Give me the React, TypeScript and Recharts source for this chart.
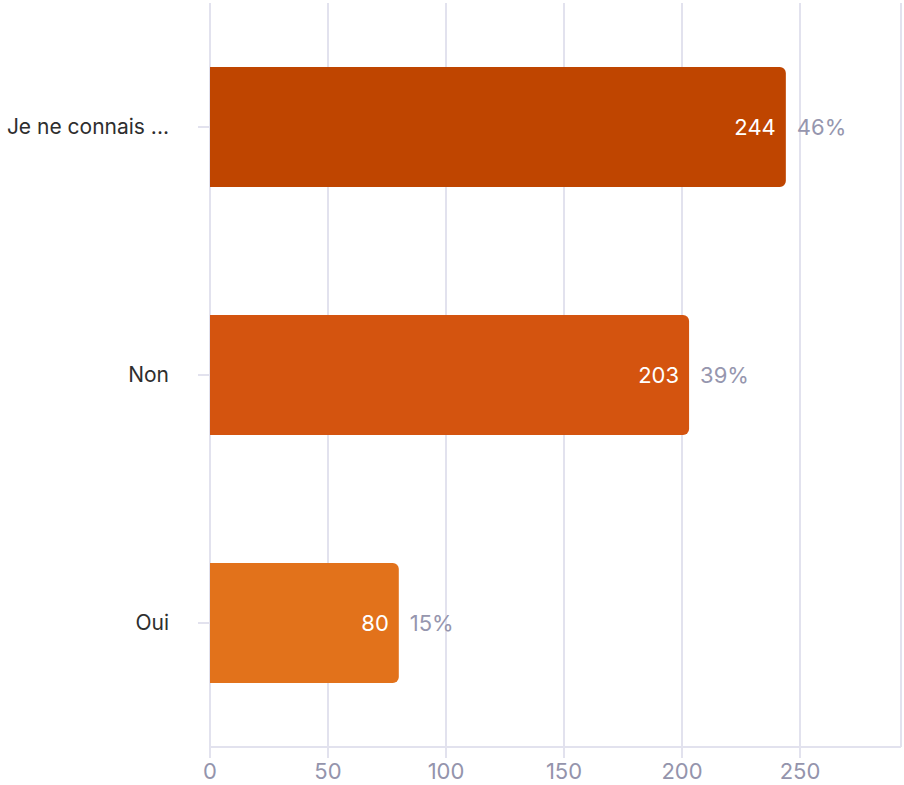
import React from "react";
import { BarChart, Bar, XAxis, YAxis, CartesianGrid, Cell, LabelList, ReferenceLine } from "recharts";

const categories = ["Je ne connais ...", "Non", "Oui"];
const counts = [244, 203, 80];
const percents = ["46%", "39%", "15%"];
const colors = ["#BF4500", "#D4540F", "#E2721B"];
const xTicks = [0, 50, 100, 150, 200, 250];
const xMax = 292.8;

const data = categories.map((c, i) => ({ name: c, value: counts[i], pct: percents[i] }));

const FONT = "Inter, 'Noto Sans', sans-serif";
const FS = 22;

const ValueLabel = (props: any) => {
  const { x, y, width, height, index } = props;
  const cy = y + height / 2;
  return (
    <g>
      <text x={x + width - 10} y={cy} dy="0.35em" textAnchor="end" fill="#FFFFFF" fontSize={FS} fontFamily={FONT}>
        {counts[index]}
      </text>
      <text x={x + width + 11} y={cy} dy="0.35em" textAnchor="start" fill="#9696AE" fontSize={FS} fontFamily={FONT}>
        {percents[index]}
      </text>
    </g>
  );
};

const YTick = (props: any) => {
  const { x, y, payload } = props;
  return (
    <text x={x - 27} y={y} dy="0.35em" textAnchor="end" fill="#2E2E2E" fontSize={21} fontFamily={FONT}>
      {payload.value}
    </text>
  );
};

export default function App() {
  return (
    <div style={{ background: "#fff", width: 904, height: 785 }}>
      <style>{`body{margin:0;overflow:hidden;}`}</style>
      <BarChart
        width={904}
        height={785}
        data={data}
        layout="vertical"
        margin={{ top: 3, right: 3, bottom: 0, left: 0 }}
      >
        <CartesianGrid horizontal={false} vertical={true} stroke="#E2E2EE" strokeWidth={2} />
        <ReferenceLine x={xMax} stroke="#E2E2EE" strokeWidth={2} />
        <XAxis
          type="number"
          domain={[0, xMax]}
          ticks={xTicks}
          height={38}
          tickSize={11}
          tickMargin={5}
          stroke="#E2E2EE"
          strokeWidth={2}
          tick={{ fill: "#9494AC", fontSize: FS, fontFamily: FONT }}
          allowDataOverflow
        />
        <YAxis
          type="category"
          dataKey="name"
          width={210}
          tickSize={12}
          axisLine={false}
          tickLine={{ stroke: "#E2E2EE", strokeWidth: 2 }}
          tick={<YTick />}
          interval={0}
        />
        <Bar dataKey="value" barSize={120} radius={[0, 6, 6, 0]} isAnimationActive={false}>
          {data.map((d, i) => (
            <Cell key={d.name} fill={colors[i]} />
          ))}
          <LabelList dataKey="value" content={<ValueLabel />} />
        </Bar>
      </BarChart>
    </div>
  );
}
